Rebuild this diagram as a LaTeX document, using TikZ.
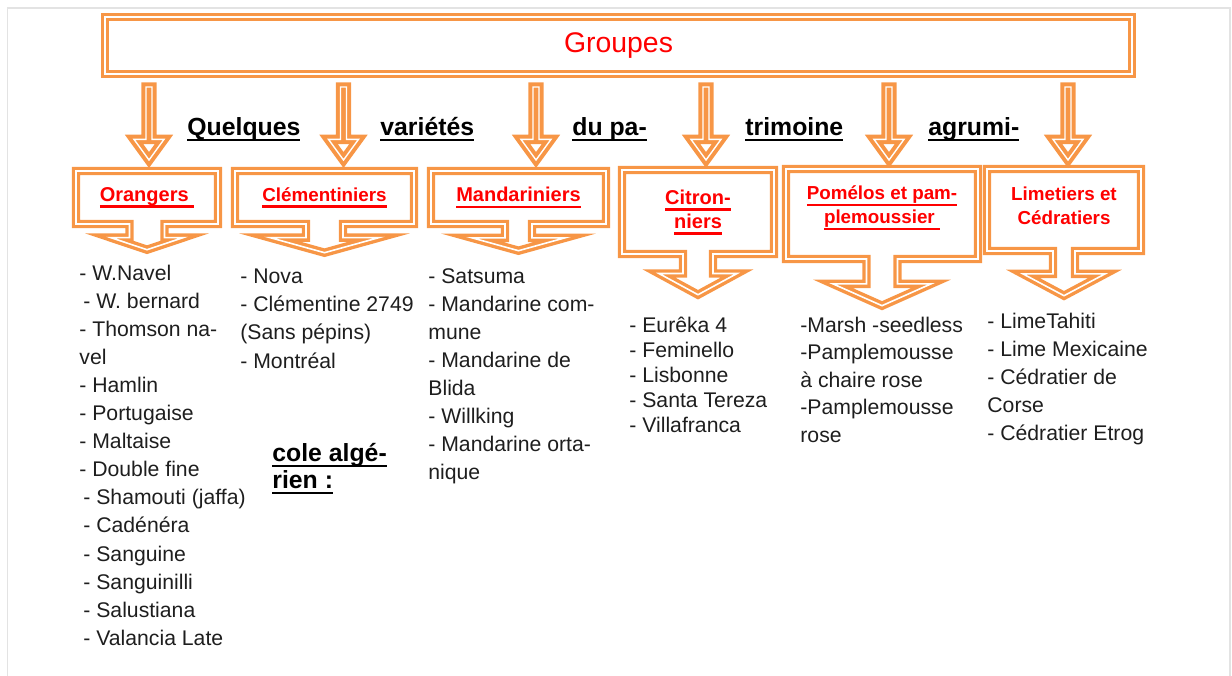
\documentclass[tikz,border=0pt]{standalone}
\usepackage{fontspec}
\setmainfont{Liberation Sans}
\usetikzlibrary{shapes.arrows}
\definecolor{boxorange}{HTML}{F79646}
\definecolor{titlered}{HTML}{FF0000}
\definecolor{listgray}{HTML}{1E1E1E}
\definecolor{framegray}{HTML}{E3E3E3}
\newsavebox{\undlbox}
\newcommand{\undl}[1]{\sbox{\undlbox}{#1}\rlap{\rule[-3.2pt]{\wd\undlbox}{1.2pt}}\usebox{\undlbox}}

\begin{document}
\begin{tikzpicture}[x=0.5pt, y=-0.5pt]
        \useasboundingbox (0,0) rectangle (1232,675);
        \draw[framegray, line width=0.6pt] (7.5,680) -- (7.5,8) -- (1230,8) -- (1230,680);
        \begin{scope}
            \tikzstyle{every node}=[draw=boxorange, line width=1.7pt, double=white, double distance=0.8pt, text=titlered, inner sep=0pt, align=center, font=\bfseries\fontsize{10}{12}\selectfont]
            \node[rectangle, minimum width=513.5pt, minimum height=28.5pt, font=\fontsize{14.2}{17}\selectfont] (groupes) at (618.5,45.5) {Groupes};
            \node[arrow box, minimum width=71pt, minimum height=26.5pt, arrow box arrows={south:12pt}, arrow box shaft width=17.5pt, arrow box head extend=9.25pt, arrow box tip angle=143] (orangers) at (147,197.5) {\undl{Orangers\ }};
            \node[arrow box, minimum width=89.5pt, minimum height=26.5pt, arrow box arrows={south:13.5pt}, arrow box shaft width=18.5pt, arrow box head extend=18pt, arrow box tip angle=149, font=\bfseries\fontsize{9.4}{12}\selectfont] (clementiniers) at (324.5,197.5) {\undl{Clémentiniers}};
            \node[arrow box, minimum width=87.5pt, minimum height=26.5pt, arrow box arrows={south:12.5pt}, arrow box shaft width=13.5pt, arrow box head extend=16.5pt, arrow box tip angle=149] (mandariniers) at (518.5,197.5) {\undl{Mandariniers}};
            \node[arrow box, minimum width=76pt, minimum height=42pt, arrow box arrows={south:19.5pt}, arrow box shaft width=15pt, arrow box head extend=12pt, arrow box tip angle=123, text depth=3pt] (citronniers) at (698,212) {\undl{Citron-}\\\undl{niers}};
            \node[arrow box, minimum width=96pt, minimum height=45pt, arrow box arrows={south:22.5pt}, arrow box shaft width=15.5pt, arrow box head extend=16.75pt, arrow box tip angle=132, font=\bfseries\fontsize{9.4}{12}\selectfont, text depth=9pt] (pomelos) at (882,214) {\undl{Pomélos et pam-}\\\undl{plemoussier\ }};
            \node[arrow box, minimum width=77pt, minimum height=41pt, arrow box arrows={south:21.5pt}, arrow box shaft width=11pt, arrow box head extend=15pt, arrow box tip angle=124, font=\bfseries\fontsize{9.4}{12}\selectfont, text depth=4.5pt] (limetiers) at (1064,210) {Limetiers et\\Cédratiers};
        \end{scope}
        \begin{scope}
            \tikzstyle{every node}=[draw=boxorange, line width=2pt, double=white, double distance=0.7pt, single arrow, single arrow tip angle=72, single arrow head extend=4pt, single arrow head indent=0pt, minimum height=36.5pt, minimum width=15pt, inner sep=0pt, rotate=-90, anchor=tail]
            \node (down1) at (149,85) {};
            \node (down2) at (343.5,85) {};
            \node (down3) at (536,85) {};
            \node (down4) at (706,85) {};
            \node (down5) at (889,85) {};
            \node (down6) at (1068,85) {};
        \end{scope}
        \begin{scope}
            \tikzstyle{every node}=[anchor=base west, inner sep=0pt, align=left, text=black, font=\bfseries\fontsize{12.4}{13.5}\selectfont]
            \node (quelques) at (187,135) {\undl{Quelques}};
            \node (varietes) at (380,135) {\undl{variétés}};
            \node (dupa) at (572,135) {\undl{du pa-}};
            \node (trimoine) at (745,135) {\undl{trimoine}};
            \node (agrumi) at (928,135) {\undl{agrumi-}};
            \node (algerien) at (272,488) {\undl{cole algé-}\\\undl{rien :}};
        \end{scope}
        \begin{scope}
            \tikzstyle{every node}=[anchor=base west, inner sep=0pt, align=left, text=listgray]
            \node[font=\fontsize{10.6}{14.05}\selectfont] (orangerslist) at (79,645.3) {- W.Navel\\\hspace*{2pt}- W. bernard\\- Thomson na-\\vel\\- Hamlin\\- Portugaise\\- Maltaise\\- Double fine\\\hspace*{2pt}- Shamouti (jaffa)\\\hspace*{2pt}- Cadénéra\\\hspace*{2pt}- Sanguine\\\hspace*{2pt}- Sanguinilli\\\hspace*{2pt}- Salustiana\\\hspace*{2pt}- Valancia Late};
            \node[font=\fontsize{10.6}{14.15}\selectfont] (clementinierslist) at (240,368) {- Nova\\- Clémentine 2749\\(Sans pépins)\\- Montréal};
            \node[font=\fontsize{10.6}{14.05}\selectfont] (mandarinierslist) at (428,479.7) {- Satsuma\\- Mandarine com-\\mune\\- Mandarine de\\Blida\\- Willking\\- Mandarine orta-\\nique};
            \node[font=\fontsize{10.6}{12.6}\selectfont] (citronnierslist) at (629,432.8) {- Eurêka 4\\- Feminello\\- Lisbonne\\- Santa Tereza\\- Villafranca};
            \node[font=\fontsize{10.6}{13.75}\selectfont] (pomeloslist) at (800,442) {-Marsh -seedless\\-Pamplemousse\\à chaire rose\\-Pamplemousse\\rose};
            \node[font=\fontsize{10.6}{14.1}\selectfont] (limetierslist) at (987,440.8) {- LimeTahiti\\- Lime Mexicaine\\- Cédratier de\\Corse\\- Cédratier Etrog};
        \end{scope}
    \end{tikzpicture}
\end{document}
